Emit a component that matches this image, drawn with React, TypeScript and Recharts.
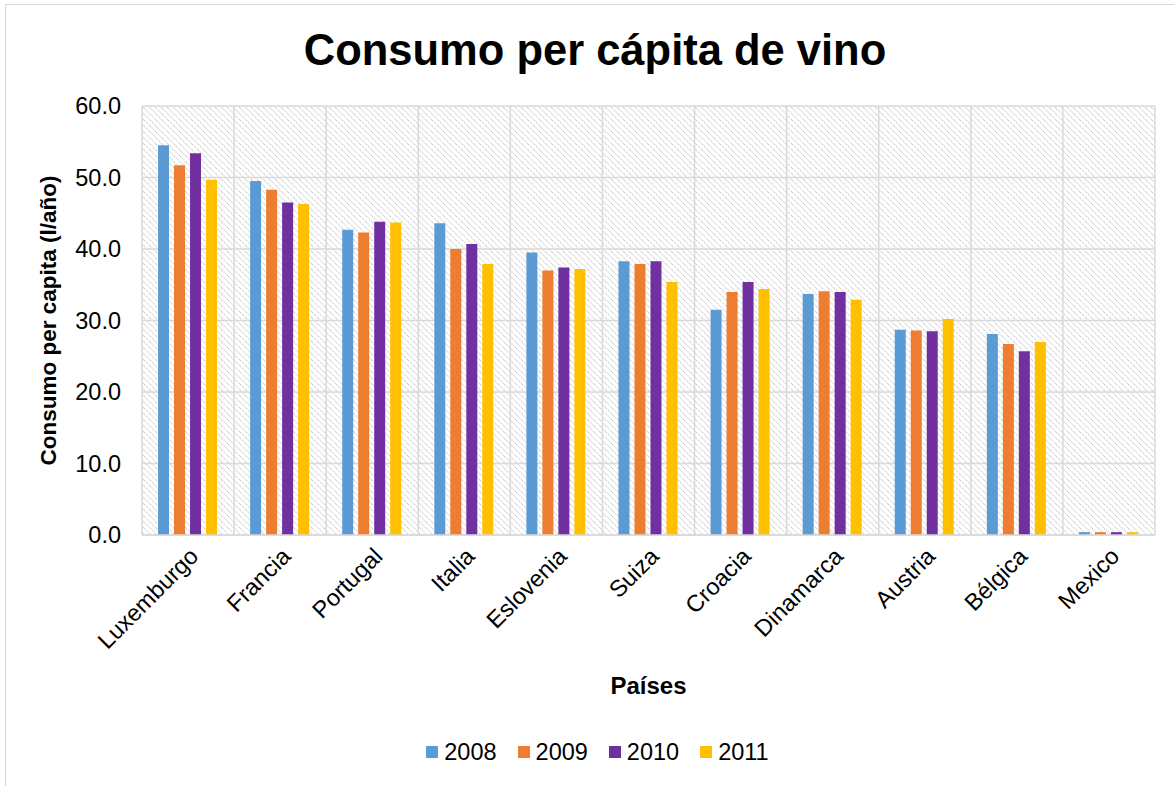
import React from 'react';
import { BarChart, Bar, XAxis, YAxis, CartesianGrid, Legend } from 'recharts';

const countries = ['Luxemburgo', 'Francia', 'Portugal', 'Italia', 'Eslovenia', 'Suiza', 'Croacia', 'Dinamarca', 'Austria', 'Bélgica', 'Mexico'];
const v2008 = [54.5, 49.5, 42.7, 43.6, 39.5, 38.3, 31.5, 33.7, 28.7, 28.1, 0.4];
const v2009 = [51.7, 48.3, 42.3, 40.0, 37.0, 37.9, 34.0, 34.1, 28.6, 26.7, 0.4];
const v2010 = [53.4, 46.5, 43.8, 40.7, 37.4, 38.3, 35.4, 34.0, 28.5, 25.7, 0.4];
const v2011 = [49.7, 46.3, 43.7, 37.9, 37.2, 35.4, 34.4, 32.9, 30.2, 27.0, 0.4];
const years = ['2008', '2009', '2010', '2011'];
const colors = ['#5B9BD5', '#ED7D31', '#7030A0', '#FFC000'];
const yTicks = [0, 10, 20, 30, 40, 50, 60];

const seriesValues = [v2008, v2009, v2010, v2011];
const data = countries.map((name, i) => {
  const row: Record<string, any> = { name };
  years.forEach((y, k) => {
    row[y] = seriesValues[k][i];
  });
  return row;
});

const FONT = '"Liberation Sans", Arial, sans-serif';

const LegendContent = () => (
  <div style={{ display: 'flex', justifyContent: 'center', alignItems: 'center', height: 30, fontFamily: FONT, fontSize: 23.5, color: '#000', paddingLeft: 20 }}>
    {years.map((y, k) => (
      <div key={y} style={{ display: 'flex', alignItems: 'center', marginRight: k < years.length - 1 ? 21 : 0 }}>
        <span style={{ display: 'inline-block', width: 12, height: 12, background: colors[k], marginRight: 6 }} />
        <span>{y}</span>
      </div>
    ))}
  </div>
);

export default function App() {
  return (
    <div style={{ position: 'absolute', left: 0, top: 0, width: 1174, height: 786, background: '#fff', overflow: 'hidden' }}>
      <div style={{ position: 'absolute', left: 5, top: 4, width: 1169, height: 782, borderLeft: '1.5px solid #d9d9d9', borderTop: '1.5px solid #d9d9d9', boxSizing: 'border-box' }} />
      <div style={{ position: 'absolute', left: 8, top: 26, width: 1174, textAlign: 'center', fontFamily: FONT, fontWeight: 'bold', fontSize: 43.5, lineHeight: '48px', color: '#000' }}>
        Consumo per cápita de vino
      </div>
      <div style={{ position: 'absolute', left: 0, top: 0 }}>
        <BarChart
          width={1174}
          height={786}
          data={data}
          margin={{ top: 106, right: 19, left: 20, bottom: 19 }}
          barCategoryGap="17.4%"
          barGap={5}
        >
          <defs>
            <pattern id="hatch" patternUnits="userSpaceOnUse" width="6" height="6">
              <rect width="6" height="6" fill="#ffffff" />
              <path d="M0,0 L6,6 M-1,5 L1,7 M5,-1 L7,1" stroke="#cfcfcf" strokeWidth="1.2" strokeDasharray="1.4 1" />
            </pattern>
          </defs>
          <CartesianGrid
            fill="url(#hatch)"
            stroke="#d9d9d9"
            strokeWidth={1.5}
            verticalCoordinatesGenerator={({ offset }: any) =>
              Array.from({ length: countries.length + 1 }, (_, i) => offset.left + (i * offset.width) / countries.length)
            }
          />
          <XAxis
            dataKey="name"
            interval={0}
            height={202}
            tickLine={false}
            axisLine={{ stroke: '#d9d9d9', strokeWidth: 1.5 }}
            tickSize={0}
            tickMargin={11}
            angle={-45}
            textAnchor="end"
            tick={{ fontFamily: FONT, fontSize: 23.5, fill: '#000' }}
            label={{ value: 'Países', position: 'insideTop', offset: 142, style: { fontFamily: FONT, fontSize: 24, fontWeight: 'bold', fill: '#000' } }}
          />
          <YAxis
            width={122}
            domain={[0, 60]}
            ticks={yTicks}
            tickFormatter={(v: number) => v.toFixed(1)}
            tickLine={false}
            axisLine={false}
            tickSize={0}
            tickMargin={21}
            tick={{ fontFamily: FONT, fontSize: 23.5, fill: '#000' }}
            label={{ value: 'Consumo per capita (l/año)', angle: -90, position: 'insideLeft', offset: 28, style: { textAnchor: 'middle', fontFamily: FONT, fontSize: 22.5, fontWeight: 'bold', fill: '#000' } }}
          />
          <Legend verticalAlign="bottom" align="center" height={30} content={<LegendContent />} />
          {years.map((y, k) => (
            <Bar key={y} dataKey={y} fill={colors[k]} isAnimationActive={false} />
          ))}
        </BarChart>
      </div>
    </div>
  );
}
